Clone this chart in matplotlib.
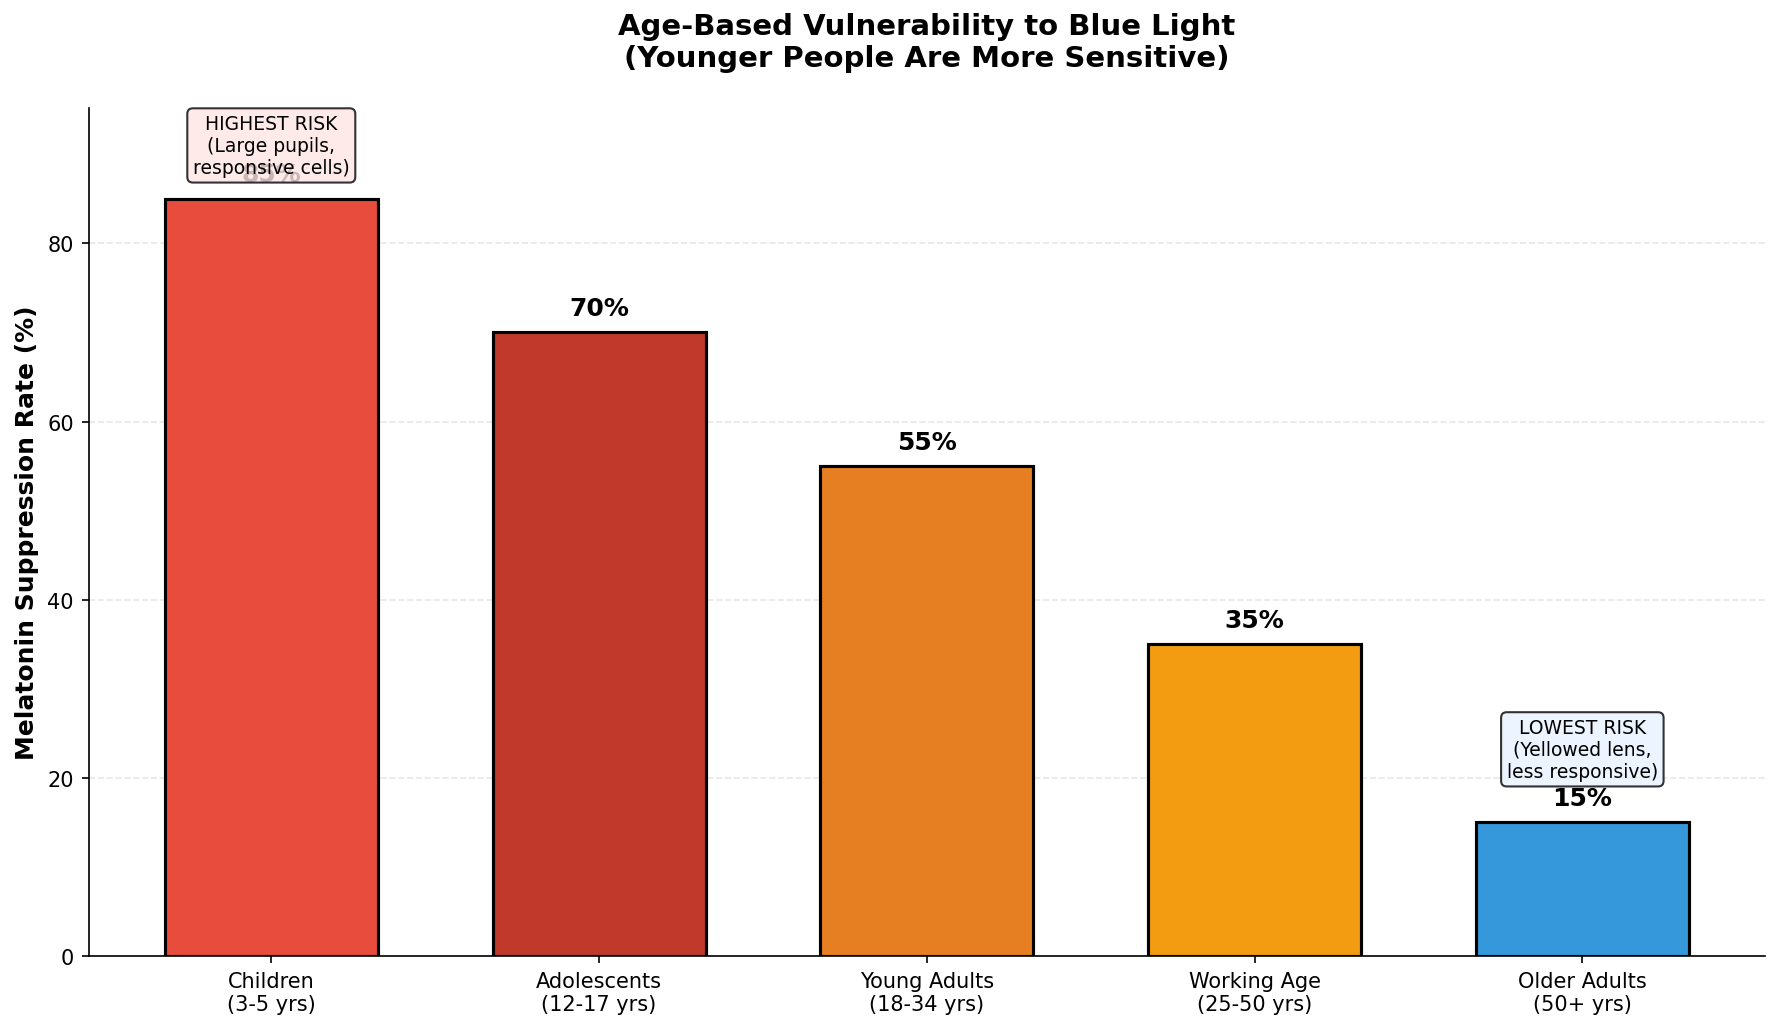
import matplotlib
matplotlib.use("Agg")
import matplotlib.pyplot as plt

categories = ["Children\n(3-5 yrs)", "Adolescents\n(12-17 yrs)", "Young Adults\n(18-34 yrs)",
              "Working Age\n(25-50 yrs)", "Older Adults\n(50+ yrs)"]
suppression = [85, 70, 55, 35, 15]
colors = ["#e74c3c", "#c0392b", "#e67e22", "#f39c12", "#3498db"]

fig = plt.figure(figsize=(11.88, 6.873), dpi=150)
ax = fig.add_axes([0.0497, 0.0718, 0.9408, 0.8225])

x = list(range(len(categories)))
bars = ax.bar(x, suppression, width=0.65, color=colors, edgecolor="black", linewidth=1.5, zorder=2)

for xi, v in zip(x, suppression):
    ax.text(xi, v + 1.4, f"{v}%", ha="center", va="bottom", fontsize=12, fontweight="bold", zorder=3)

ax.text(0, 91, "HIGHEST RISK\n(Large pupils,\nresponsive cells)", ha="center", va="center", fontsize=9,
        bbox=dict(boxstyle="round,pad=0.3", facecolor="#ffe5e5", edgecolor="black", alpha=0.8), zorder=5)
ax.text(4, 23.2, "LOWEST RISK\n(Yellowed lens,\nless responsive)", ha="center", va="center", fontsize=9,
        bbox=dict(boxstyle="round,pad=0.3", facecolor="#e8f2ff", edgecolor="black", alpha=0.8), zorder=5)

ax.set_xticks(x)
ax.set_xticklabels(categories, fontsize=10)
ax.set_ylim(0, max(suppression) * 1.12)
ax.set_ylabel("Melatonin Suppression Rate (%)", fontsize=12, fontweight="bold")
ax.set_title("Age-Based Vulnerability to Blue Light\n(Younger People Are More Sensitive)",
             fontsize=14, fontweight="bold", pad=20)
ax.yaxis.grid(True, linestyle="--", alpha=0.3, zorder=0)
ax.set_axisbelow(True)
ax.spines["top"].set_visible(False)
ax.spines["right"].set_visible(False)

fig.savefig("out.png", dpi=150)
